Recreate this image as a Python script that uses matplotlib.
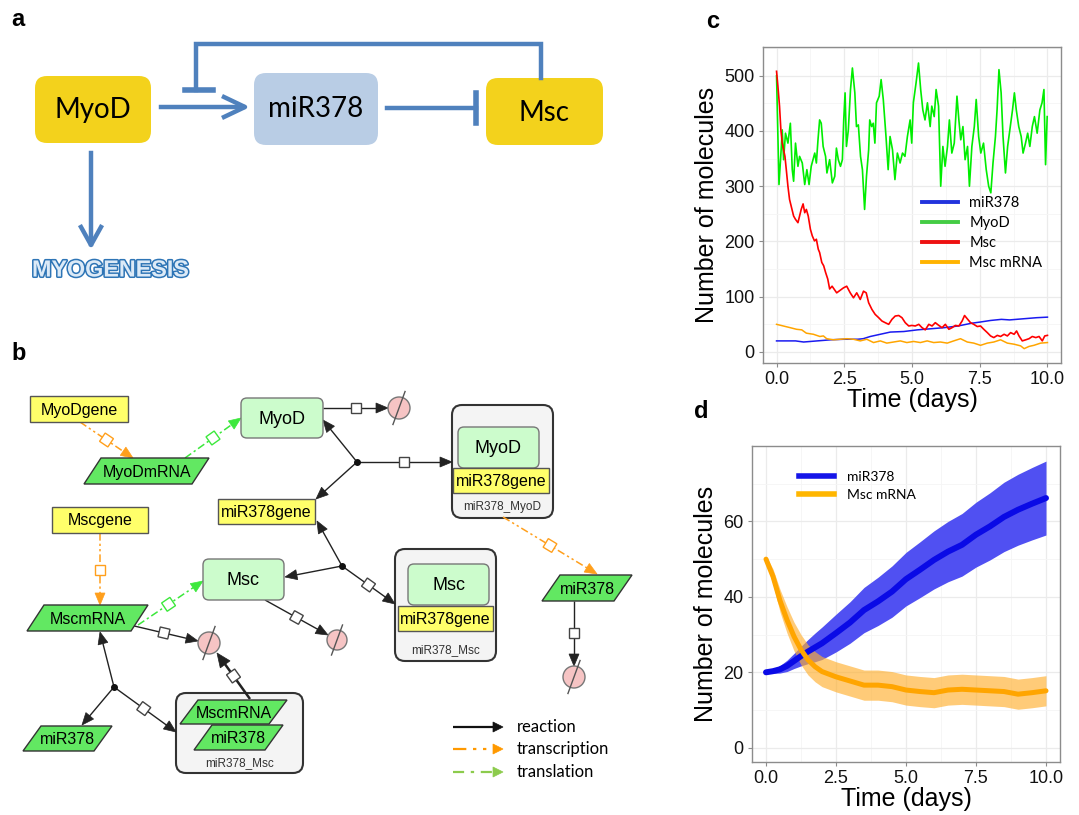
import math
import matplotlib
matplotlib.use("Agg")
import matplotlib.pyplot as plt
import matplotlib.patheffects as pe
from matplotlib.lines import Line2D
from matplotlib.patches import Circle, FancyBboxPatch, Polygon, Rectangle

plt.rcParams["font.family"] = ["Liberation Sans", "DejaVu Sans"]

# ---- panel c: one stochastic run ----
myod_t = [0.00, 0.09, 0.17, 0.21, 0.26, 0.33, 0.42, 0.51, 0.58, 0.63,
          0.70, 0.79, 0.85, 0.95, 1.04, 1.12, 1.20, 1.28, 1.41, 1.47,
          1.53, 1.59, 1.65, 1.72, 1.81, 1.86, 1.96, 2.06, 2.15, 2.21,
          2.28, 2.36, 2.43, 2.48, 2.53, 2.58, 2.65, 2.73, 2.80, 2.89,
          2.95, 3.02, 3.10, 3.17, 3.25, 3.32, 3.40, 3.44, 3.51, 3.57,
          3.63, 3.69, 3.79, 3.86,
          3.94, 4.04, 4.12, 4.19, 4.28, 4.37, 4.46, 4.56, 4.65, 4.74,
          4.83, 4.93, 4.99, 5.05, 5.15, 5.24, 5.32, 5.40, 5.48, 5.57,
          5.67, 5.73, 5.82, 5.89, 5.98, 6.06, 6.14, 6.22, 6.31, 6.38,
          6.47, 6.56, 6.66, 6.73, 6.80, 6.88, 6.96, 7.05, 7.12, 7.21,
          7.30, 7.37, 7.46, 7.54, 7.64, 7.74, 7.83, 7.91, 7.99, 8.08,
          8.14, 8.21, 8.29, 8.36, 8.45, 8.53, 8.63, 8.71, 8.78, 8.85,
          8.94, 9.03, 9.10, 9.19, 9.27, 9.35, 9.44, 9.52, 9.62, 9.72,
          9.80, 9.87, 9.93, 9.99]
myod_v = [500, 303, 366, 402, 348, 396, 378, 414, 330, 309,
          378, 336, 354, 342, 303, 330, 303, 336, 360, 342,
          384, 420, 414, 372, 354, 324, 348, 306, 318, 369,
          348, 336, 348, 420, 469, 372, 402, 475, 514, 469,
          408, 411, 354, 330, 258, 318, 366, 420, 408, 414,
          378, 451, 463, 493,
          457, 390, 330, 390, 366, 312, 360, 342, 360, 354,
          390, 420, 378, 451, 487, 523, 475, 438, 420, 451,
          408, 445, 426, 475, 445, 300, 372, 336, 372, 420,
          360, 378, 463, 420, 384, 408, 348, 372, 300, 372,
          408, 457, 390, 360, 378, 330, 300, 288, 342, 390,
          438, 511, 469, 390, 324, 372, 408, 438, 469, 438,
          408, 390, 360, 378, 396, 372, 408, 426, 396, 438,
          451, 475, 339, 426]

msc_t = [0.00, 0.05, 0.11, 0.16, 0.21, 0.26, 0.31, 0.36, 0.42, 0.48,
         0.54, 0.63, 0.70, 0.79, 0.85, 0.91, 0.98, 1.04, 1.10, 1.17,
         1.25, 1.32, 1.40, 1.47, 1.54, 1.59, 1.67, 1.74, 1.81, 1.89,
         1.96, 2.05, 2.22, 2.47, 2.59, 2.72, 2.84, 2.96, 3.09, 3.21,
         3.31, 3.40, 3.52, 3.64, 3.77, 3.89, 4.01, 4.14, 4.26, 4.38,
         4.51, 4.63, 4.75, 4.88, 5.00, 5.12, 5.25, 5.37, 5.49, 5.62,
         5.74, 5.86, 5.99, 6.11, 6.23, 6.36, 6.48, 6.60, 6.73, 6.85,
         6.94, 7.04, 7.16, 7.28, 7.41, 7.53, 7.65, 7.78, 7.90, 8.02,
         8.15, 8.27, 8.40, 8.52, 8.64, 8.77, 8.86, 8.95, 9.07, 9.20,
         9.32, 9.44, 9.57, 9.69, 9.81, 9.90, 10.00]
msc_v = [508, 481, 445, 402, 378, 366, 354, 330, 300, 276,
         264, 246, 240, 234, 246, 258, 268, 252, 258, 246,
         222, 210, 201, 204, 186, 180, 162, 156, 144, 132,
         114, 119, 107, 116, 119, 107, 98, 107, 95, 110,
         107, 89, 77, 68, 62, 56, 53, 50, 59, 65,
         66, 62, 53, 47, 48, 47, 50, 44, 40, 50,
         47, 53, 48, 44, 50, 41, 44, 48, 47, 56,
         66, 60, 53, 50, 46, 47, 41, 35, 29, 26,
         30, 28, 32, 29, 35, 32, 38, 29, 20, 22,
         24, 28, 26, 28, 20, 29, 30]

mir_t = [0, 0.7, 1.0, 1.5, 2.0, 2.5, 3.0, 3.2, 3.46, 3.83, 4.2, 4.7,
         5.2, 5.7, 6.2, 6.7, 7.2, 7.5, 7.9, 8.3, 8.6, 9.1, 9.6, 10.0]
mir_v = [20, 20, 18, 20, 22, 23, 23, 24, 28, 32, 36, 37,
         40, 42, 44, 47, 52, 54, 57, 59, 58, 60, 62, 63]

mrna_t = [0, 0.25, 0.5, 0.74, 0.93, 1.1, 1.36, 1.6, 1.73, 1.85, 2.1,
          2.35, 2.6, 2.84, 3.09, 3.33, 3.58, 3.83, 4.07, 4.32, 4.57,
          4.81, 5.06, 5.31, 5.56, 5.8, 6.05, 6.3, 6.54, 6.79, 7.04,
          7.28, 7.53, 7.78, 8.02, 8.27, 8.52, 8.77, 9.01, 9.14, 9.32,
          9.5, 9.75, 10.0]
mrna_v = [50, 47, 44, 41, 40, 34, 32, 28, 29, 24, 22,
          23, 24, 23, 20, 23, 17, 20, 16, 18, 20,
          17, 19, 17, 20, 17, 18, 16, 20, 24, 18,
          16, 12, 16, 18, 22, 16, 14, 11, 6, 10,
          12, 16, 17]

# ---- panel d: mean +/- sd ----
d_t = [0, 0.25, 0.5, 0.75, 1, 1.25, 1.5, 1.75, 2, 2.5, 3, 3.5, 4, 4.5,
       5, 5.5, 6, 6.5, 7, 7.5, 8, 8.5, 9, 9.5, 10]
d_mir_mean = [20, 20.3, 20.8, 21.7, 23, 24.3, 25.5, 26.6, 27.7, 30.4,
              33.2, 36.5, 38.8, 41.4, 44.7, 47.2, 49.8, 52, 53.8, 56.5,
              58.7, 61.2, 63.1, 64.7, 66.2]
d_mir_sd = [0, 0.6, 1.0, 1.5, 2, 2.6, 3.2, 3.8, 4.3, 5, 5.5, 6, 6.4,
            6.8, 7.1, 7.4, 7.7, 8, 8.3, 8.6, 8.9, 9.2, 9.4, 9.6, 9.8]
d_mrna_mean = [50, 45.4, 39, 33.9, 29.5, 26, 23.3, 21.5, 20.2, 18.8,
               17.7, 16.6, 16.6, 16.2, 15.3, 14.9, 14.6, 15.3, 15.5,
               15.3, 15.1, 14.9, 14.2, 14.6, 15.1]
d_mrna_sd = [0.8, 2.0, 3.0, 3.5, 3.8, 4, 4, 4, 4, 4, 4, 4, 4, 4, 4,
             4, 4, 4, 4, 4, 4, 4, 4, 4, 4]

x_ticks = [0, 2.5, 5, 7.5, 10]
x_ticklabels = ["0.0", "2.5", "5.0", "7.5", "10.0"]
c_yticks = [0, 100, 200, 300, 400, 500]
d_yticks = [0, 20, 40, 60]
c_names = ["miR378", "MyoD", "Msc", "Msc mRNA"]
d_names = ["miR378", "Msc mRNA"]

W, H = 1079, 815
fig = plt.figure(figsize=(W / 100, H / 100), dpi=100)

# full-figure axes in pixel units for the two diagrams
dg = fig.add_axes([0, 0, 1, 1])
dg.set_xlim(0, W)
dg.set_ylim(H, 0)
dg.axis("off")

BLUE = "#4F81BD"
GOLD = "#F3D21C"
GENE = "#FFFF6A"
RNA = "#62E862"
PROT = "#CCFCCC"
INK = "#222222"
ORANGE = "#FF9F1C"
GREEN = "#3CE83C"


def rbox(x0, y0, x1, y1, fc, ec="none", lw=1.0, r=10, z=2):
    dg.add_patch(FancyBboxPatch((x0, y0), x1 - x0, y1 - y0,
                                boxstyle=f"round,pad=0,rounding_size={r}",
                                fc=fc, ec=ec, lw=lw, zorder=z))


def gene(x0, y0, x1, y1, label, z=5):
    dg.add_patch(Rectangle((x0, y0), x1 - x0, y1 - y0, fc=GENE,
                           ec="#555555", lw=1, zorder=z))
    dg.text((x0 + x1) / 2, (y0 + y1) / 2 + 1, label, ha="center",
            va="center", fontsize=11.5, zorder=z + 1)


def rna(x0, y0, x1, y1, label, skew=17, z=5):
    pts = [(x0 + skew, y0), (x1, y0), (x1 - skew, y1), (x0, y1)]
    dg.add_patch(Polygon(pts, closed=True, fc=RNA, ec="#333333", lw=1,
                         zorder=z))
    dg.text((x0 + x1) / 2, (y0 + y1) / 2 + 1, label, ha="center",
            va="center", fontsize=11.5, zorder=z + 1)


def protein(x0, y0, x1, y1, label, z=4):
    rbox(x0, y0, x1, y1, PROT, "#777777", 1, 6, z)
    dg.text((x0 + x1) / 2, (y0 + y1) / 2 + 1, label, ha="center",
            va="center", fontsize=13, zorder=z + 1)


def complex_box(x0, y0, x1, y1, label, ly):
    rbox(x0, y0, x1, y1, "#F4F4F4", "#333333", 1.5, 10, 2)
    dg.text((x0 + x1) / 2, ly, label, ha="center", va="center",
            fontsize=8.5, color="#333333", zorder=3)


def link(p0, p1, color=INK, ls="-", lw=1.0, sq=None, head=True, hl=12, hw=5):
    x0, y0 = p0
    x1, y1 = p1
    L = math.hypot(x1 - x0, y1 - y0)
    ux, uy = (x1 - x0) / L, (y1 - y0) / L
    px, py = -uy, ux
    xe, ye = (x1 - ux * hl * 0.7, y1 - uy * hl * 0.7) if head else (x1, y1)
    dg.plot([x0, xe], [y0, ye], color=color, ls=ls, lw=lw, zorder=3,
            solid_capstyle="butt")
    if head:
        bx, by = x1 - ux * hl, y1 - uy * hl
        dg.add_patch(Polygon([(x1, y1), (bx + px * hw, by + py * hw),
                              (bx - px * hw, by - py * hw)], closed=True,
                             fc=color, ec=color, lw=0.5, zorder=3))
    if sq is not None:
        cx, cy = x0 + (x1 - x0) * sq, y0 + (y1 - y0) * sq
        s = 5
        pts = [(cx + s * (ux * a + px * b), cy + s * (uy * a + py * b))
               for a, b in ((1, 1), (1, -1), (-1, -1), (-1, 1))]
        dg.add_patch(Polygon(pts, closed=True, fc="white",
                             ec="#444444" if color == INK else color,
                             lw=1, zorder=4))


def sink(cx, cy, r=11):
    dg.add_patch(Circle((cx, cy), r, fc="#F6C4C4", ec="#777777", lw=1, zorder=3))
    dg.plot([cx - 0.55 * r, cx + 0.55 * r], [cy + 1.5 * r, cy - 1.5 * r],
            color="#555555", lw=1, zorder=4)


def dot(x, y):
    dg.plot(x, y, "o", ms=4, color="#111111", zorder=5)


# ---- panel a ----
rbox(35, 76, 151, 143, GOLD, r=12)
rbox(254, 73, 378, 145, "#B9CDE5", r=12)
rbox(486, 78, 603, 145, GOLD, r=12)
for x, y, s in [(93, 110, "MyoD"), (316, 109, "miR378"), (544, 113, "Msc")]:
    dg.text(x, y, s, family="Lato", fontsize=20, ha="center", va="center", zorder=3)

alw = 3.2
dg.plot([196, 196, 541, 541], [90, 44, 44, 78], color=BLUE, lw=alw,
        solid_joinstyle="miter")
dg.plot([185, 213], [90, 90], color=BLUE, lw=4)
dg.plot([161, 243], [107, 107], color=BLUE, lw=alw)
dg.plot([224, 245, 224], [97, 107, 117], color=BLUE, lw=alw)
dg.plot([387, 476], [108, 108], color=BLUE, lw=alw)
dg.plot([476, 476], [93, 123], color=BLUE, lw=4)
dg.plot([91, 91], [153, 244], color=BLUE, lw=alw)
dg.plot([81, 91, 101], [227, 245, 227], color=BLUE, lw=alw)
dg.text(32, 270, "MYOGENESIS", fontsize=16.8, fontweight="bold",
        color="#DCEAF7", ha="left", va="center",
        path_effects=[pe.withStroke(linewidth=2.2, foreground="#2E75B6")])

# ---- panel b ----
gene(30, 396, 128, 422, "MyoDgene")
gene(52, 507, 148, 533, "Mscgene")
gene(218, 499, 315, 524, "miR378gene")
protein(241, 398, 323, 438, "MyoD")
protein(203, 559, 284, 600, "Msc")
rna(84, 458, 209, 484, "MyoDmRNA")
rna(27, 605, 148, 631, "MscmRNA")
rna(542, 575, 632, 601, "miR378", 18)
rna(23, 726, 112, 751, "miR378", 18)

complex_box(452, 405, 553, 518, "miR378_MyoD", 507)
protein(458, 427, 539, 468, "MyoD")
gene(453, 468, 549, 493, "miR378gene")
complex_box(395, 549, 496, 661, "miR378_Msc", 650)
protein(408, 564, 489, 605, "Msc")
gene(398, 606, 493, 631, "miR378gene")
complex_box(176, 693, 303, 773, "miR378_Msc", 763)
rna(180, 700, 287, 724, "MscmRNA", 18)
rna(194, 725, 283, 750, "miR378", 18)

tr = (0, (5, 2, 1.5, 2, 1.5, 2))
tl = (0, (5, 2, 1.5, 2))
link((80, 422), (133, 458), ORANGE, tr, 1.1, sq=0.5)
link((185, 458), (241, 418), GREEN, tl, 1.1, sq=0.5)
link((100, 533), (100, 605), ORANGE, tr, 1.1, sq=0.51)
link((138, 625), (203, 581), GREEN, tl, 1.1, sq=0.47)
link((503, 517), (597, 574), ORANGE, tr, 1.1, sq=0.5)

link((323, 408), (388, 408), sq=0.51)
sink(399, 408)
dot(357, 462)
link((357, 462), (323, 420))
link((357, 462), (316, 499))
link((357, 462), (452, 462), sq=0.49)
dot(342, 566)
link((342, 566), (317, 521))
link((342, 566), (285, 577))
link((342, 566), (395, 604), sq=0.5)
link((265, 600), (328, 635), sq=0.5)
sink(337, 640, 10)
link((574, 601), (574, 666), sq=0.49)
sink(574, 677)
link((130, 625), (198, 641), sq=0.5)
sink(209, 643)
link((250, 699), (217, 653), lw=1.8, sq=0.5, hl=14, hw=6)
dot(114, 687)
link((114, 687), (100, 632))
link((114, 687), (82, 725))
link((114, 687), (176, 732), sq=0.48)

for y, col, ls, s in [(727, "#111111", "-", "reaction"),
                      (749, "#FF9900", (0, (6, 3, 1.5, 3, 1.5, 3)), "transcription"),
                      (772, "#8CCB4C", (0, (5, 3, 1.5, 3)), "translation")]:
    link((453, y), (503, y), col, ls, 1.6, hl=10, hw=5)
    dg.text(517, y, s, family="Lato", fontsize=12, ha="left", va="center")

for x, y, s in [(18, 20, "a"), (19, 353, "b"), (713, 21, "c"), (701, 412, "d")]:
    dg.text(x, y, s, fontsize=17, fontweight="bold", ha="center", va="center")


# ---- panels c and d ----
def gg(ax, yticks, ylim):
    ax.set_xlim(-0.5, 10.5)
    ax.set_ylim(*ylim)
    ax.set_xticks(x_ticks)
    ax.set_xticklabels(x_ticklabels)
    ax.set_yticks(yticks)
    ax.set_xticks([1.25, 3.75, 6.25, 8.75], minor=True)
    step = yticks[1] - yticks[0]
    ax.set_yticks([v + step / 2 for v in yticks], minor=True)
    ax.grid(which="major", color="#EBEBEB", lw=0.9)
    ax.grid(which="minor", color="#F5F5F5", lw=0.6)
    ax.set_axisbelow(True)
    for sp in ax.spines.values():
        sp.set_color("#8C8C8C")
        sp.set_linewidth(1.0)
    ax.tick_params(which="major", length=3, color="#8C8C8C", labelsize=13,
                   pad=3, labelcolor="#111111")
    ax.tick_params(which="minor", length=0)
    ax.set_xlabel("Time (days)", fontsize=18, labelpad=0)
    ax.set_ylabel("Number of molecules", fontsize=18, labelpad=4)


axc = fig.add_axes([763 / W, 1 - 363 / H, (1061 - 763) / W, (363 - 47) / H])
gg(axc, c_yticks, (-20, 552))
axc.plot(mir_t, mir_v, color="#1A1AF0", lw=1.1)
axc.plot(myod_t, myod_v, color="#00EE00", lw=1.2)
axc.plot(msc_t, msc_v, color="#FF0000", lw=1.2)
axc.plot(mrna_t, mrna_v, color="#FFA500", lw=1.1)
c_handles = [Line2D([], [], color=c, lw=2.8)
             for c in ["#2233DD", "#44CC44", "#EE1111", "#FFB300"]]
axc.legend(c_handles, c_names, loc="upper left",
           bbox_to_anchor=(922 / W, 1 - 196 / H), bbox_transform=fig.transFigure,
           frameon=False, borderpad=0, borderaxespad=0, handlelength=2.45,
           handletextpad=0.8, labelspacing=0.42, prop={"family": "Lato", "size": 10.5})

axd = fig.add_axes([752 / W, 1 - 761.7 / H, (1060 - 752) / W, (761.7 - 446) / H])
gg(axd, d_yticks, (-3.7, 80))
mir_lo = [m - s for m, s in zip(d_mir_mean, d_mir_sd)]
mir_hi = [m + s for m, s in zip(d_mir_mean, d_mir_sd)]
mrna_lo = [m - s for m, s in zip(d_mrna_mean, d_mrna_sd)]
mrna_hi = [m + s for m, s in zip(d_mrna_mean, d_mrna_sd)]
axd.fill_between(d_t, mir_lo, mir_hi, color="#5050F2", lw=0)
axd.plot(d_t, d_mir_mean, color="#0A0AE6", lw=4.3, solid_capstyle="round")
axd.fill_between(d_t, mrna_lo, mrna_hi, color="#FFB030", alpha=0.65, lw=0)
axd.plot(d_t, d_mrna_mean, color="#FFA500", lw=3.6, solid_capstyle="round")
d_handles = [Line2D([], [], color=c, lw=4) for c in ["#1515E8", "#FFB600"]]
axd.legend(d_handles, d_names, loc="upper left",
           bbox_to_anchor=(799 / W, 1 - 471 / H), bbox_transform=fig.transFigure,
           frameon=False, borderpad=0, borderaxespad=0, handlelength=2.5,
           handletextpad=0.93, labelspacing=0.42, prop={"family": "Lato", "size": 10})

fig.savefig("out.png", dpi=100)
